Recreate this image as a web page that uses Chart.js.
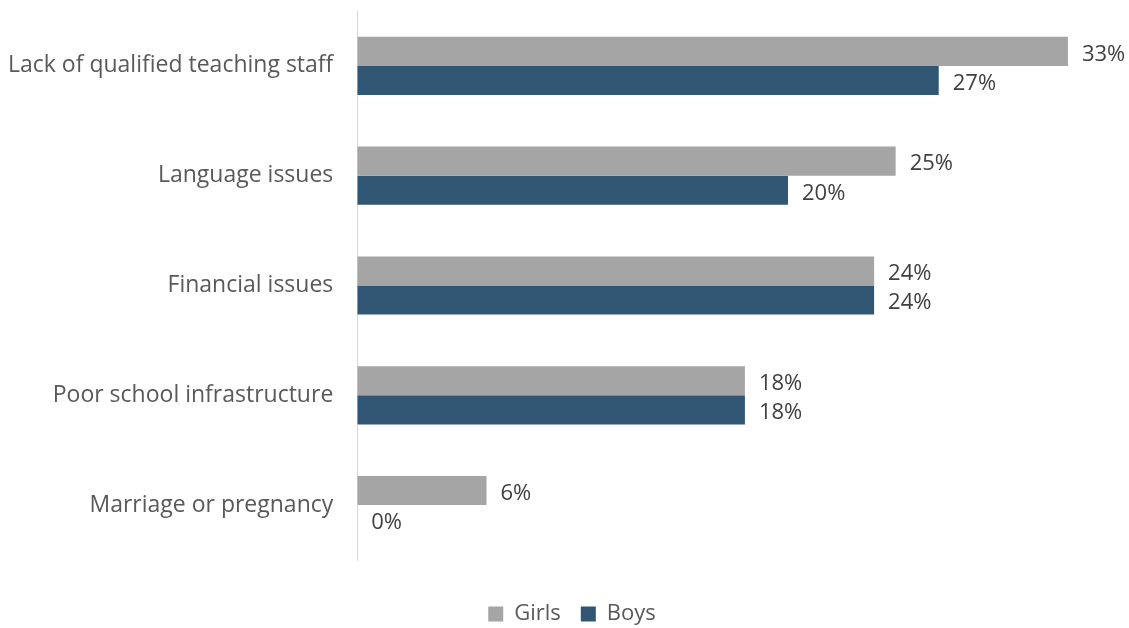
<!DOCTYPE html>
<html>
<head>
<meta charset="utf-8">
<script src="https://cdn.jsdelivr.net/npm/chart.js@4"></script>
<style>
  html, body { margin: 0; padding: 0; background: #fff; }
  #wrap { width: 1129px; height: 628px; }
</style>
</head>
<body>
<div id="wrap"><canvas id="chart"></canvas></div>
<script>
// reasons for dropping out, by gender (%)
let categories = [
  "Lack of qualified teaching staff",
  "Language issues",
  "Financial issues",
  "Poor school infrastructure",
  "Marriage or pregnancy"
];
let girls = [33, 25, 24, 18, 6];
let boys = [27, 20, 24, 18, 0];

let fontFamily = "'Open Sans', 'Noto Sans', sans-serif";

// writes the value next to the end of every bar
let barValues = {
  id: "barValues",
  afterDatasetsDraw(chart) {
    let ctx = chart.ctx;
    ctx.save();
    ctx.font = "22px " + fontFamily;
    ctx.fillStyle = "#404040";
    ctx.textAlign = "left";
    ctx.textBaseline = "middle";
    chart.data.datasets.forEach((ds, i) => {
      chart.getDatasetMeta(i).data.forEach((bar, j) => {
        ctx.fillText(ds.data[j] + "%", bar.x + 14, bar.y + 3);
      });
    });
    ctx.restore();
  }
};

// nudge the legend a little to the right
let legendShift = {
  id: "legendShift",
  afterLayout(chart) {
    chart.legend.left += 12;
    chart.legend.right += 12;
  }
};

let ctx = document.getElementById("chart").getContext("2d");
let chart = new Chart(ctx, {
  type: "bar",
  data: {
    labels: categories,
    datasets: [{
      label: "Girls",
      data: girls,
      backgroundColor: "#A5A5A5"
    }, {
      label: "Boys",
      data: boys,
      backgroundColor: "#305673"
    }]
  },
  options: {
    indexAxis: "y",
    responsive: true,
    maintainAspectRatio: false,
    animation: false,
    categoryPercentage: 0.53,
    barPercentage: 1,
    layout: { padding: { top: 11, right: 18, left: 9, bottom: -7 } },
    scales: {
      // hidden value axis, only keeps a gap above the legend
      x: {
        min: 0, max: 35,
        grid: { display: false },
        border: { display: false },
        ticks: { display: false },
        afterFit(scale) { scale.height = 23; }
      },
      y: {
        grid: { display: false, drawTicks: false },
        border: { display: true, color: "#D9D9D9", width: 1 },
        ticks: {
          color: "#595959",
          padding: 24,
          font: { size: 23, family: fontFamily }
        },
        afterFit(scale) {
          scale.width -= 25;
          scale.paddingTop = 0;
          scale.paddingBottom = 0;
        }
      }
    },
    plugins: {
      legend: {
        position: "bottom",
        labels: {
          boxWidth: 15,
          boxHeight: 15,
          padding: 20,
          color: "#595959",
          font: { size: 22, family: fontFamily }
        }
      },
      tooltip: { enabled: false }
    }
  },
  plugins: [barValues, legendShift]
});
</script>
</body>
</html>
